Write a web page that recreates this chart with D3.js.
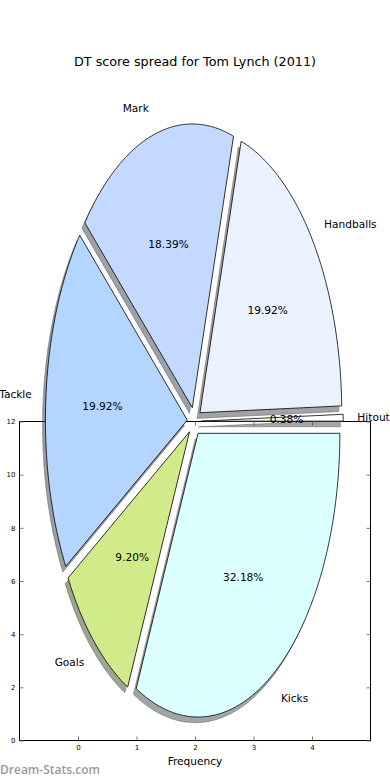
<!DOCTYPE html>
<html>
<head>
<meta charset="utf-8">
<script src="https://cdn.jsdelivr.net/npm/d3@7"></script>
<style>
  body { margin: 0; background: #fff; }
  text { font-family: "DejaVu Sans", sans-serif; }
</style>
</head>
<body>
<div id="chart"></div>
<script>
// data: DT points by source
const categories = ["Hitout", "Handballs", "Mark", "Tackle", "Goals", "Kicks"];
const points = [1, 52, 48, 52, 24, 84];
const colors = ["#ffffff", "#eaf1ff", "#c4d9ff", "#b3d5ff", "#d1eb8a", "#dcffff"];
const explode = [0.05, 0.05, 0.05, 0.05, 0.05, 0.05];
const xTicks = [0, 1, 2, 3, 4];
const yTicks = [0, 2, 4, 6, 8, 10, 12];

const W = 390, H = 780;
const svg = d3.select("#chart").append("svg")
    .attr("width", W)
    .attr("height", H);

// title
svg.append("text")
    .attr("x", 195).attr("y", 65.5)
    .attr("text-anchor", "middle")
    .style("font-size", "12.75px")
    .text("DT score spread for Tom Lynch (2011)");

// the empty axes behind the pie
const frame = { left: 19.5, right: 370.5, top: 421.5, bottom: 740.5 };
const x = d3.scaleLinear().domain([-1, 5]).range([frame.left, frame.right]);
const y = d3.scaleLinear().domain([0, 12]).range([frame.bottom, frame.top]);

svg.append("rect")
    .attr("x", frame.left).attr("y", frame.top)
    .attr("width", frame.right - frame.left)
    .attr("height", frame.bottom - frame.top)
    .attr("fill", "#fff")
    .attr("stroke", "#000")
    .attr("stroke-width", 1);

function styleAxis(g) {
  g.select(".domain").remove();
  g.selectAll("line").attr("stroke", "#777").attr("stroke-width", 1);
  g.selectAll("text").attr("font-family", "DejaVu Sans").attr("font-size", 7).attr("fill", "#000");
}

svg.append("g")
    .attr("transform", `translate(0,${frame.bottom})`)
    .call(d3.axisBottom(x).tickValues(xTicks).tickFormat(d3.format("d")).tickSize(-4).tickPadding(5))
    .call(styleAxis);
svg.append("g")
    .attr("transform", `translate(0,${frame.top})`)
    .call(d3.axisTop(x).tickValues(xTicks).tickSize(-4).tickFormat(""))
    .call(styleAxis);
svg.append("g")
    .attr("transform", `translate(${frame.left},0)`)
    .call(d3.axisLeft(y).tickValues(yTicks).tickFormat(d3.format("d")).tickSize(-4).tickPadding(4))
    .call(styleAxis);
svg.append("g")
    .attr("transform", `translate(${frame.right},0)`)
    .call(d3.axisRight(y).tickValues(yTicks).tickSize(-4).tickFormat(""))
    .call(styleAxis);

svg.append("text")
    .attr("x", (frame.left + frame.right) / 2).attr("y", 765)
    .attr("text-anchor", "middle")
    .style("font-size", "10.6px")
    .text("Frequency");

// pie, squashed into an ellipse like the original
const cx = 194.3, cy = 421.3, rx = 141.8, ry = 283.7;
const px = d3.scaleLinear().domain([-1, 1]).range([cx - rx, cx + rx]);
const py = d3.scaleLinear().domain([-1, 1]).range([cy + ry, cy - ry]);

const total = d3.sum(points);
const arcs = d3.pie().sort(null).startAngle(0).endAngle(2 * Math.PI)(points)
  .map((a, i) => {
    const mid = (a.startAngle + a.endAngle) / 2;
    return {
      i, a0: a.startAngle, a1: a.endAngle, mid,
      ox: explode[i] * Math.cos(mid),
      oy: explode[i] * Math.sin(mid)
    };
  });

const line = d3.line();
function wedgePath(d, dx, dy) {
  const n = Math.max(2, Math.ceil((d.a1 - d.a0) / 0.01));
  const pts = [[px(d.ox + dx), py(d.oy + dy)]];
  for (let k = 0; k <= n; k++) {
    const t = d.a0 + (d.a1 - d.a0) * k / n;
    pts.push([px(d.ox + dx + Math.cos(t)), py(d.oy + dy + Math.sin(t))]);
  }
  return line(pts) + "Z";
}

function shade(c) {
  const r = d3.rgb(c);
  return d3.rgb(r.r * 0.3, r.g * 0.3, r.b * 0.3).toString();
}

// shadows go under every wedge
svg.append("g").selectAll("path")
  .data(arcs)
  .join("path")
    .attr("d", d => wedgePath(d, -0.02, -0.02))
    .attr("fill", d => shade(colors[d.i]))
    .attr("fill-opacity", 0.5)
    .attr("stroke", d => shade(colors[d.i]))
    .attr("stroke-opacity", 0.5)
    .attr("stroke-width", 0.8);

svg.append("g").selectAll("path")
  .data(arcs)
  .join("path")
    .attr("d", d => wedgePath(d, 0, 0))
    .attr("fill", d => colors[d.i])
    .attr("stroke", "#000")
    .attr("stroke-width", 0.8)
    .attr("stroke-linejoin", "round");

// category labels
svg.append("g").selectAll("text")
  .data(arcs)
  .join("text")
    .attr("x", d => px(d.ox + 1.1 * Math.cos(d.mid)))
    .attr("y", d => py(d.oy + 1.1 * Math.sin(d.mid)))
    .attr("dy", "0.36em")
    .attr("text-anchor", d => (d.ox + 1.1 * Math.cos(d.mid)) > 0 ? "start" : "end")
    .style("font-size", "10.6px")
    .text(d => categories[d.i]);

// percentage labels
svg.append("g").selectAll("text")
  .data(arcs)
  .join("text")
    .attr("x", d => px(d.ox + 0.6 * Math.cos(d.mid)))
    .attr("y", d => py(d.oy + 0.6 * Math.sin(d.mid)))
    .attr("dy", "0.36em")
    .attr("text-anchor", "middle")
    .style("font-size", "10.6px")
    .text(d => (points[d.i] / total * 100).toFixed(2) + "%");

// watermark
svg.append("text")
    .attr("x", 0).attr("y", 774)
    .style("font-family", "'Open Sans', sans-serif")
    .style("font-weight", 600)
    .style("font-size", "12px")
    .attr("fill", "#9a9a9a")
    .text("Dream-Stats.com");
</script>
</body>
</html>
